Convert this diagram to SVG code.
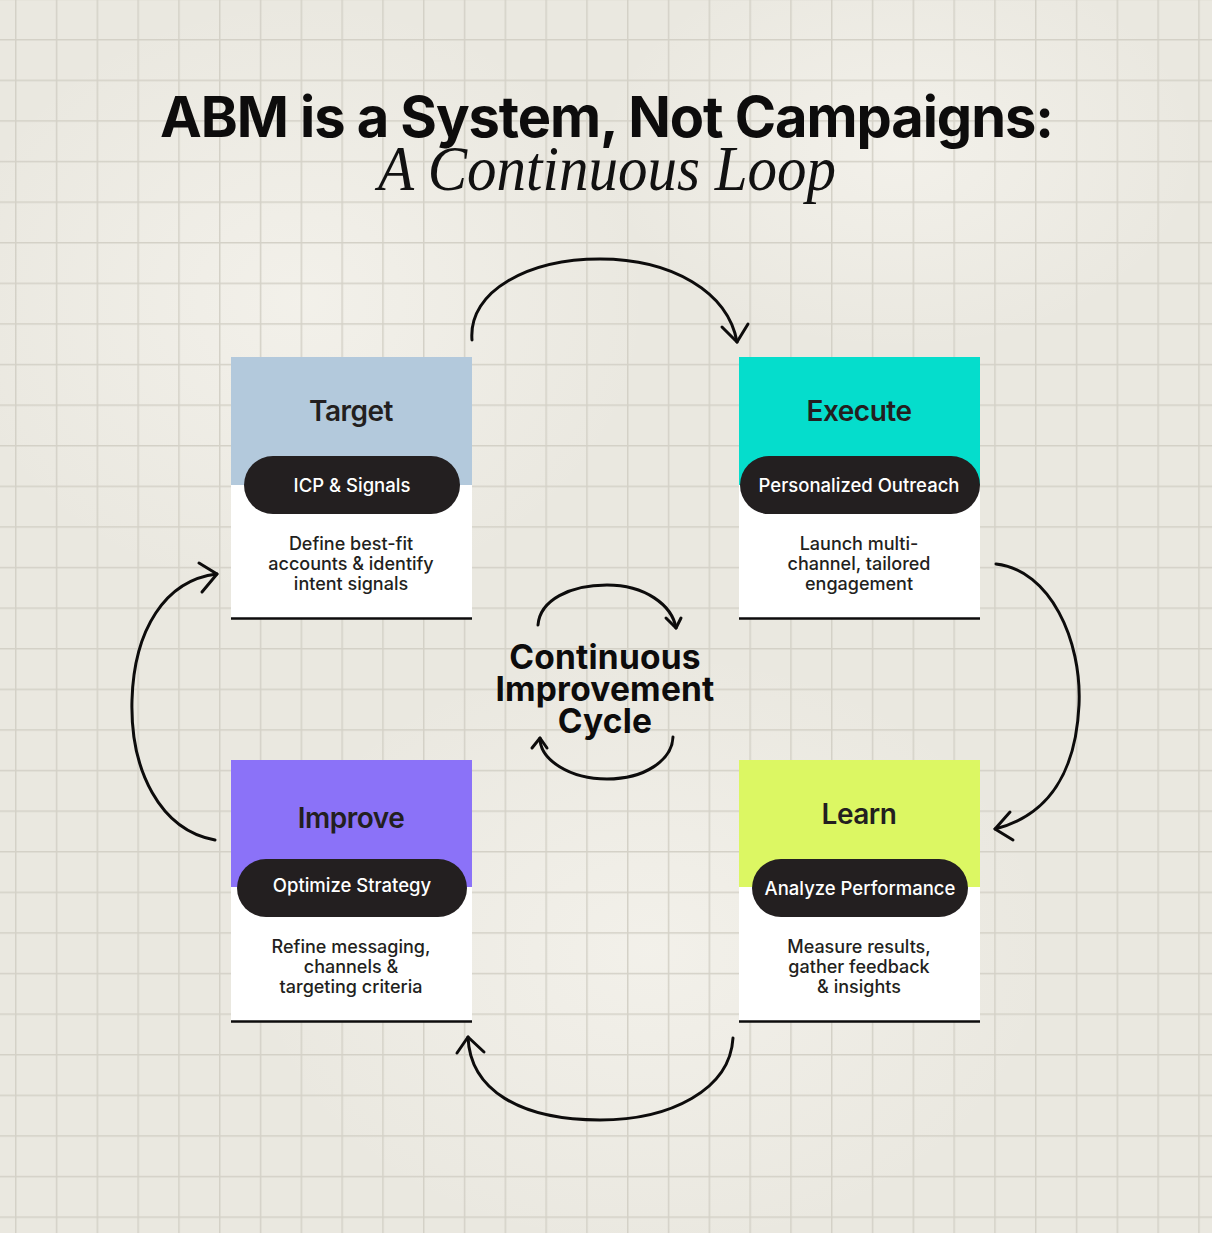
<svg xmlns="http://www.w3.org/2000/svg" width="1212" height="1233" viewBox="0 0 1212 1233">
<defs>
<pattern id="grid" x="15" y="39" width="40.8" height="40.6" patternUnits="userSpaceOnUse">
<path d="M0.75,0 V40.6 M0,0.75 H40.8" fill="none" stroke="#d4d1c7" stroke-width="1.5"/>
</pattern>
<radialGradient id="shade1" cx="0.5" cy="0.5" r="0.5">
<stop offset="0" stop-color="#f6f4ee" stop-opacity="0.7"/>
<stop offset="1" stop-color="#f6f4ee" stop-opacity="0"/>
</radialGradient>
<style>
.title{font-family:Inter,"Liberation Sans",sans-serif;font-weight:700;font-size:56px;fill:#0d0c0c;text-anchor:middle}
.sub{font-family:"Liberation Serif",serif;font-style:italic;font-size:64px;fill:#111;text-anchor:middle}
.ctitle{font-family:Inter,"Liberation Sans",sans-serif;font-weight:600;font-size:28px;fill:#231f20;text-anchor:middle;letter-spacing:-0.5px}
.pill{fill:#231f20}
.ptext{font-family:Inter,"Liberation Sans",sans-serif;font-weight:500;font-size:18.5px;fill:#ffffff;text-anchor:middle}
.desc{font-family:Inter,"Liberation Sans",sans-serif;font-weight:500;font-size:18px;fill:#231f20;text-anchor:middle}
.base{fill:#ffffff}
.rule{stroke:#0d0c0c;stroke-width:2.5}
.center{font-family:Inter,"Liberation Sans",sans-serif;font-weight:700;font-size:33.5px;fill:#0d0c0c;text-anchor:middle;letter-spacing:0.2px}
.arrow{fill:none;stroke:#0d0c0c;stroke-width:3;stroke-linecap:round;stroke-linejoin:round}
</style>
</defs>
<rect width="1212" height="1233" fill="#eae8e0"/>
<ellipse cx="300" cy="300" rx="350" ry="300" fill="url(#shade1)"/>
<ellipse cx="900" cy="150" rx="300" ry="200" fill="url(#shade1)"/>
<ellipse cx="650" cy="950" rx="400" ry="300" fill="url(#shade1)"/>
<rect width="1212" height="1233" fill="url(#grid)"/>

<g id="title">
<text class="title" x="607" y="137" textLength="894" lengthAdjust="spacing">ABM is a System, Not Campaigns:</text>
<text class="sub" x="607" y="190" textLength="458" lengthAdjust="spacingAndGlyphs">A Continuous Loop</text>
</g>

<g id="node-target">
<rect class="base" x="231" y="357" width="241" height="262"/>
<rect x="231" y="357" width="241" height="128" fill="#b3c9dc"/>
<line class="rule" x1="231" y1="618.5" x2="472" y2="618.5"/>
<text class="ctitle" x="351" y="421">Target</text>
<rect class="pill" x="244" y="456" width="216" height="58" rx="29"/>
<text class="ptext" x="352" y="492">ICP &amp; Signals</text>
<text class="desc" x="351" y="550">Define best-fit</text>
<text class="desc" x="351" y="570">accounts &amp; identify</text>
<text class="desc" x="351" y="590">intent signals</text>
</g>

<g id="node-execute">
<rect class="base" x="739" y="357" width="241" height="262"/>
<rect x="739" y="357" width="241" height="128" fill="#05ddcc"/>
<line class="rule" x1="739" y1="618.5" x2="980" y2="618.5"/>
<text class="ctitle" x="859" y="421">Execute</text>
<rect class="pill" x="740" y="456" width="240" height="58" rx="29"/>
<text class="ptext" x="859" y="492">Personalized Outreach</text>
<text class="desc" x="859" y="550">Launch multi-</text>
<text class="desc" x="859" y="570">channel, tailored</text>
<text class="desc" x="859" y="590">engagement</text>
</g>

<g id="node-improve">
<rect class="base" x="231" y="760" width="241" height="262"/>
<rect x="231" y="760" width="241" height="127" fill="#8b72f8"/>
<line class="rule" x1="231" y1="1021.5" x2="472" y2="1021.5"/>
<text class="ctitle" x="351" y="828">Improve</text>
<rect class="pill" x="237" y="859" width="230" height="58" rx="29"/>
<text class="ptext" x="352" y="892">Optimize Strategy</text>
<text class="desc" x="351" y="953">Refine messaging,</text>
<text class="desc" x="351" y="973">channels &amp;</text>
<text class="desc" x="351" y="993">targeting criteria</text>
</g>

<g id="node-learn">
<rect class="base" x="739" y="760" width="241" height="262"/>
<rect x="739" y="760" width="241" height="127" fill="#dcf763"/>
<line class="rule" x1="739" y1="1021.5" x2="980" y2="1021.5"/>
<text class="ctitle" x="859" y="824">Learn</text>
<rect class="pill" x="752" y="859" width="216" height="58" rx="29"/>
<text class="ptext" x="860" y="895">Analyze Performance</text>
<text class="desc" x="859" y="953">Measure results,</text>
<text class="desc" x="859" y="973">gather feedback</text>
<text class="desc" x="859" y="993">&amp; insights</text>
</g>

<g id="node-center">
<text class="center" x="605" y="669">Continuous</text>
<text class="center" x="605" y="701">Improvement</text>
<text class="center" x="605" y="733">Cycle</text>
</g>

<g id="connectors">
<path class="arrow" d="M472,340 C468,290 530,259 600,259 C672,259 728,292 737,342"/>
<polyline class="arrow" points="722,327 737,342 748,324"/>
<path class="arrow" d="M996,564 C1050,570 1082,640 1079,705 C1076,770 1050,815 995,829"/>
<polyline class="arrow" points="1010,812 995,829 1013,840"/>
<path class="arrow" d="M733,1038 C730,1090 670,1120 600,1120 C520,1120 470,1090 468,1037"/>
<polyline class="arrow" points="457,1053 468,1037 484,1052"/>
<path class="arrow" d="M215,840 C160,830 130,770 132,700 C134,630 165,580 217,574"/>
<polyline class="arrow" points="199,563 217,574 202,592"/>
<path class="arrow" d="M538,625 C540,600 570,585 607,585 C645,585 672,605 676,628"/>
<polyline class="arrow" points="666,618 676,628 681,618"/>
<path class="arrow" d="M673,737 C672,760 645,779 607,779 C570,779 540,760 540,738"/>
<polyline class="arrow" points="532,748 540,738 547,748"/>
</g>
</svg>
